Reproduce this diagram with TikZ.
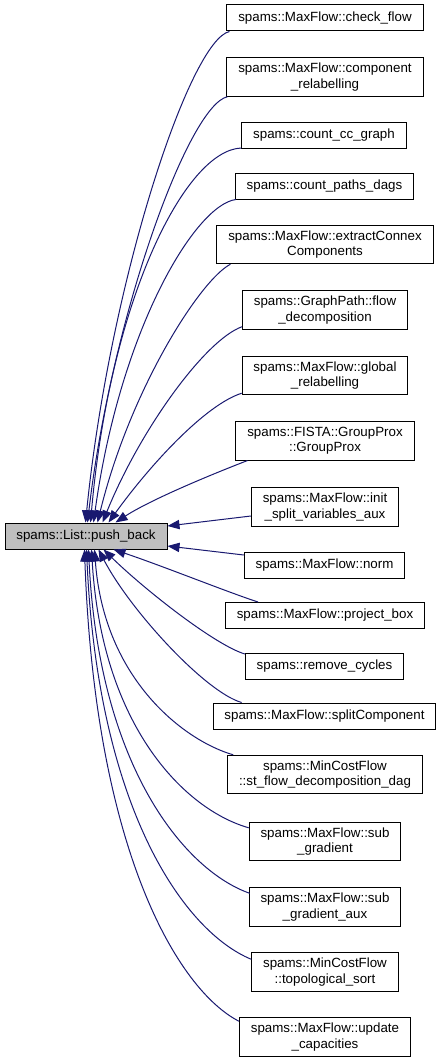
\documentclass[tikz,border=0pt]{standalone}
\usepackage{fontspec}
\setmainfont{Liberation Sans}
\usetikzlibrary{arrows.meta,calc}
\definecolor{edgeblue}{HTML}{191970}
\definecolor{boxgray}{HTML}{BFBFBF}
\tikzset{
  fn/.style={draw=black, line width=0.75pt, fill=white, align=center,
    font=\fontsize{10}{11.5}\selectfont, inner xsep=8.5pt, inner ysep=4pt,
    minimum height=19.5pt},
  mainfn/.style={fn, fill=boxgray},
  edge/.style={draw=edgeblue, line width=0.75pt, -{Triangle[length=9pt,width=7pt]}},
}
\begin{document}
\begin{tikzpicture}[x=0.75pt,y=-0.75pt]
\useasboundingbox (0,0) rectangle (441,1063);
\node[mainfn, minimum width=121.5pt] (pb) at (86,536) {spams::List::push\_back};
\node[fn] (n1) at (325,18) {spams::MaxFlow::check\_flow};
\node[fn] (n2) at (325,77) {spams::MaxFlow::component\\\_relabelling};
\node[fn] (n3) at (324,135.5) {spams::count\_cc\_graph};
\node[fn] (n4) at (324.5,186) {spams::count\_paths\_dags};
\node[fn] (n5) at (325,244.5) {spams::MaxFlow::extractConnex\\Components};
\node[fn] (n6) at (325,310) {spams::GraphPath::flow\\\_decomposition};
\node[fn] (n7) at (325,375.5) {spams::MaxFlow::global\\\_relabelling};
\node[fn] (n8) at (325,441) {spams::FISTA::GroupProx\\::GroupProx};
\node[fn] (n9) at (325,507) {spams::MaxFlow::init\\\_split\_variables\_aux};
\node[fn] (n10) at (324.5,565) {spams::MaxFlow::norm};
\node[fn] (n11) at (325,615.5) {spams::MaxFlow::project\_box};
\node[fn] (n12) at (324.5,666.5) {spams::remove\_cycles};
\node[fn] (n13) at (324.5,716) {spams::MaxFlow::splitComponent};
\node[fn] (n14) at (325,774.5) {spams::MinCostFlow\\::st\_flow\_decomposition\_dag};
\node[fn] (n15) at (325,841.5) {spams::MaxFlow::sub\\\_gradient};
\node[fn] (n16) at (325,907) {spams::MaxFlow::sub\\\_gradient\_aux};
\node[fn] (n17) at (325,972) {spams::MinCostFlow\\::topological\_sort};
\node[fn] (n18) at (325,1037) {spams::MaxFlow::update\\\_capacities};
% upper callers
\draw[edge] ($(n1.south west)+(3,0)$) .. controls (190,40) and (110,280) .. ($(pb.north west)+(81,0)$);
\draw[edge] ($(n2.south west)+(1,0)$) .. controls (189,105) and (112,314) .. ($(pb.north west)+(83,0)$);
\draw[edge] ($(n3.south west)+(0,-1)$) .. controls (185,150) and (110,300) .. ($(pb.north west)+(86,0)$);
\draw[edge] ($(n4.south west)+(1,0)$) .. controls (195,205) and (120,330) .. ($(pb.north west)+(89,0)$);
\draw[edge] ($(n5.south west)+(14,0)$) .. controls (200,280) and (130,390) .. ($(pb.north west)+(93,0)$);
\draw[edge] ($(n6.south west)+(0,-3)$) .. controls (205,340) and (140,430) .. ($(pb.north west)+(98,0)$);
\draw[edge] ($(n7.south west)+(0,-2)$) .. controls (205,405) and (150,465) .. ($(pb.north west)+(104,0)$);
\draw[edge] ($(n8.south west)+(12,0)$) .. controls (210,475) and (150,500) .. ($(pb.north west)+(111,0)$);
% side callers
\draw[edge] ($(n9.west)+(0,9)$) -- ($(pb.east)+(0,-10)$);
\draw[edge] ($(n10.west)+(0,-10)$) -- ($(pb.east)+(0,10)$);
% lower callers
\draw[edge] ($(n11.north west)+(33,0)$) .. controls (230,593) and (160,565) .. ($(pb.south west)+(109,0)$);
\draw[edge] ($(n12.north west)+(0,1)$) .. controls (215,645) and (145,590) .. ($(pb.south west)+(99,0)$);
\draw[edge] ($(n13.north west)+(29,0)$) .. controls (205,692) and (130,610) .. ($(pb.south west)+(94,0)$);
\draw[edge] ($(n14.north west)+(6,0)$) .. controls (185,741) and (104,680) .. ($(pb.south west)+(90,0)$);
\draw[edge] ($(n15.north west)+(0,6)$) .. controls (186,810) and (102,728) .. ($(pb.south west)+(87,0)$);
\draw[edge] ($(n16.north west)+(1,6)$) .. controls (186,871) and (99,769) .. ($(pb.south west)+(84,0)$);
\draw[edge] ($(n17.north west)+(0,7)$) .. controls (185,932) and (98,811) .. ($(pb.south west)+(82,0)$);
\draw[edge] ($(n18.north west)+(0,4)$) .. controls (178,990) and (95,851) .. ($(pb.south west)+(80,0)$);
\end{tikzpicture}
\end{document}
